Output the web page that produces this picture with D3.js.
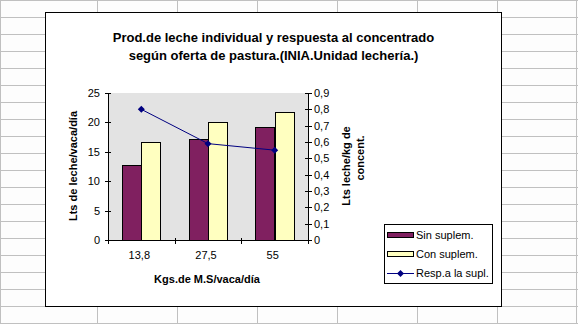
<!DOCTYPE html>
<html>
<head>
<meta charset="utf-8">
<script src="https://cdn.jsdelivr.net/npm/d3@7"></script>
<style>
  html, body { margin: 0; padding: 0; background: #ffffff; }
  svg { display: block; }
  text { font-family: "Liberation Sans", Arial, sans-serif; fill: #000; }
</style>
</head>
<body>
<svg id="chart" width="578" height="324"></svg>
<script>
// ---- data ----
const categories = ["13,8", "27,5", "55"];
const sinSuplem = [12.8, 17.2, 19.2];
const conSuplem = [16.6, 20.0, 21.8];
const respuesta = [0.80, 0.59, 0.55];
const leftTicks = [0, 5, 10, 15, 20, 25];
const rightTicks = [0, 0.1, 0.2, 0.3, 0.4, 0.5, 0.6, 0.7, 0.8, 0.9];
const seriesNames = ["Sin suplem.", "Con suplem.", "Resp.a la supl."];
const titleLines = ["Prod.de leche individual y respuesta al concentrado",
                    "según oferta de pastura.(INIA.Unidad lechería.)"];

const svg = d3.select("#chart");
const W = 578, H = 324;

// ---- spreadsheet grid background ----
const grid = svg.append("g");
grid.append("rect").attr("width", W).attr("height", H).attr("fill", "#fdfdfd");
const colXs = [0.5, 97.5, 177.5, 257.5, 337.5, 417.5, 497.5, 576.5];
colXs.forEach(x => grid.append("line").attr("x1", x).attr("x2", x).attr("y1", 0).attr("y2", H)
  .attr("stroke", "#c0c0c0").attr("stroke-width", 1));
for (let y = 0.5; y < H; y += 17) {
  grid.append("line").attr("x1", 0).attr("x2", W).attr("y1", y).attr("y2", y)
    .attr("stroke", "#c0c0c0").attr("stroke-width", 1);
}

// ---- chart area ----
svg.append("rect").attr("x", 45.5).attr("y", 12.5).attr("width", 456).attr("height", 294)
  .attr("fill", "#ffffff").attr("stroke", "#000").attr("stroke-width", 1);

// title
svg.append("g").selectAll("text").data(titleLines).join("text")
  .attr("x", 273.5).attr("y", (d, i) => 41.5 + i * 18)
  .attr("text-anchor", "middle").attr("font-size", "13px").attr("font-weight", "bold")
  .text(d => d);

// plot geometry
const plot = { left: 108, right: 308, top: 93, bottom: 240 };

const x = d3.scaleBand().domain(categories).range([plot.left, plot.right]).padding(0);
const xInner = d3.scaleBand().domain([0, 1])
  .range([14, x.bandwidth() - 14]).padding(0);
const yL = d3.scaleLinear().domain([0, 25]).range([plot.bottom, plot.top]);
const yR = d3.scaleLinear().domain([0, 0.9]).range([plot.bottom, plot.top]);

// plot background
svg.append("rect").attr("x", plot.left).attr("y", plot.top)
  .attr("width", plot.right - plot.left).attr("height", plot.bottom - plot.top)
  .attr("fill", "#e3e3e3");

// bars
const barColors = ["#802060", "#ffffc0"];
const barData = [];
categories.forEach((c, i) => {
  barData.push({ c, s: 0, v: sinSuplem[i] });
  barData.push({ c, s: 1, v: conSuplem[i] });
});
svg.append("g").selectAll("rect").data(barData).join("rect")
  .attr("x", d => Math.round(x(d.c) + xInner(d.s)) + 0.5)
  .attr("y", d => Math.round(yL(d.v)) + 0.5)
  .attr("width", d => Math.round(xInner.bandwidth()))
  .attr("height", d => Math.round(yL(0)) - Math.round(yL(d.v)))
  .attr("fill", d => barColors[d.s])
  .attr("stroke", "#000").attr("stroke-width", 1);

// axes
const axisG = svg.append("g").attr("stroke", "#000").attr("stroke-width", 1);
// left axis
axisG.append("line").attr("x1", plot.left + 0.5).attr("x2", plot.left + 0.5)
  .attr("y1", plot.top).attr("y2", plot.bottom + 0.5);
leftTicks.forEach(t => axisG.append("line")
  .attr("x1", plot.left - 3).attr("x2", plot.left + 3)
  .attr("y1", Math.round(yL(t)) + 0.5).attr("y2", Math.round(yL(t)) + 0.5));
svg.append("g").selectAll("text").data(leftTicks).join("text")
  .attr("x", plot.left - 8).attr("y", d => yL(d) + 4)
  .attr("text-anchor", "end").attr("font-size", "11px").text(d => d);

// right axis
axisG.append("line").attr("x1", plot.right + 0.5).attr("x2", plot.right + 0.5)
  .attr("y1", plot.top).attr("y2", plot.bottom + 0.5);
rightTicks.forEach(t => axisG.append("line")
  .attr("x1", plot.right - 3).attr("x2", plot.right + 4)
  .attr("y1", Math.round(yR(t)) + 0.5).attr("y2", Math.round(yR(t)) + 0.5));
svg.append("g").selectAll("text").data(rightTicks).join("text")
  .attr("x", plot.right + 6).attr("y", d => yR(d) + 4)
  .attr("text-anchor", "start").attr("font-size", "11px")
  .text(d => d3.format(".1~f")(d).replace(".", ","));

// bottom axis
axisG.append("line").attr("x1", plot.left).attr("x2", plot.right + 1)
  .attr("y1", plot.bottom + 0.5).attr("y2", plot.bottom + 0.5);
const xTickPos = [plot.left].concat(categories.map(c => x(c) + x.bandwidth()));
xTickPos.forEach(p => axisG.append("line")
  .attr("x1", Math.round(p) + 0.5).attr("x2", Math.round(p) + 0.5)
  .attr("y1", plot.bottom - 2).attr("y2", plot.bottom + 4));
svg.append("g").selectAll("text").data(categories).join("text")
  .attr("x", d => x(d) + x.bandwidth() / 2 - 2).attr("y", 259)
  .attr("text-anchor", "middle").attr("font-size", "11px").text(d => d);

// axis titles
svg.append("text").attr("x", 207).attr("y", 282.5)
  .attr("text-anchor", "middle").attr("font-size", "11px").attr("font-weight", "bold")
  .text("Kgs.de M.S/vaca/día");
svg.append("text").attr("transform", "translate(77,166) rotate(-90)")
  .attr("text-anchor", "middle").attr("font-size", "11px").attr("font-weight", "bold")
  .text("Lts de leche/vaca/día");
svg.append("text").attr("transform", "translate(350,166) rotate(-90)")
  .attr("text-anchor", "middle").attr("font-size", "11px").attr("font-weight", "bold")
  .text("Lts leche/kg de");
svg.append("text").attr("transform", "translate(364,158) rotate(-90)")
  .attr("text-anchor", "middle").attr("font-size", "11px").attr("font-weight", "bold")
  .text("concent.");

// line series
const lineColor = "#000080";
const cx = c => x(c) + x.bandwidth() / 2;
const lineGen = d3.line().x((d, i) => cx(categories[i])).y(d => yR(d));
svg.append("path").datum(respuesta).attr("d", lineGen)
  .attr("fill", "none").attr("stroke", lineColor).attr("stroke-width", 1);
const diamond = (px, py, r) => `M${px},${py - r}L${px + r},${py}L${px},${py + r}L${px - r},${py}Z`;
svg.append("g").selectAll("path").data(respuesta).join("path")
  .attr("d", (d, i) => diamond(cx(categories[i]), yR(d), 3.5))
  .attr("fill", lineColor);

// legend
const lg = svg.append("g");
lg.append("rect").attr("x", 384.5).attr("y", 224.5).attr("width", 108).attr("height", 59)
  .attr("fill", "#fff").attr("stroke", "#000").attr("stroke-width", 1);
const legY = [235, 254, 273];
[0, 1].forEach(i => {
  lg.append("rect").attr("x", 387.5).attr("y", legY[i] - 3 + 0.5).attr("width", 26).attr("height", 5)
    .attr("fill", barColors[i]).attr("stroke", "#000").attr("stroke-width", 1);
});
lg.append("line").attr("x1", 387).attr("x2", 414).attr("y1", legY[2] + 0.5).attr("y2", legY[2] + 0.5)
  .attr("stroke", lineColor).attr("stroke-width", 1);
lg.append("path").attr("d", diamond(400.5, legY[2] + 0.5, 3.5)).attr("fill", lineColor);
lg.selectAll("text.leg").data(seriesNames).join("text").attr("class", "leg")
  .attr("x", 416).attr("y", (d, i) => legY[i] + 4)
  .attr("font-size", "11px").text(d => d);
</script>
</body>
</html>
